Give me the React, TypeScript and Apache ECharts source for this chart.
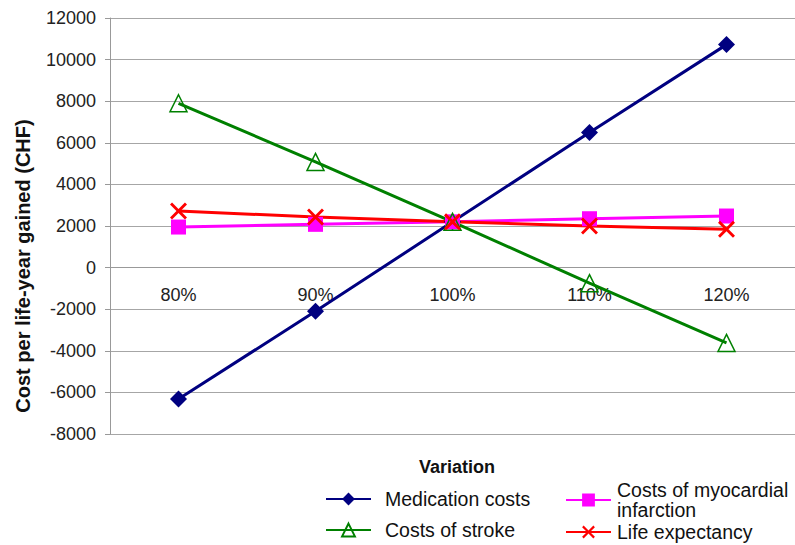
import React, { useEffect, useRef } from "react";
import * as echarts from "echarts";

const categories = ["80%", "90%", "100%", "110%", "120%"];
const medicationCosts = [-6320, -2100, 2200, 6500, 10720];
const costsOfMI = [1950, 2080, 2200, 2350, 2480];
const costsOfStroke = [7900, 5080, 2200, -750, -3620];
const lifeExpectancy = [2720, 2430, 2200, 2000, 1840];

const FONT = "'Liberation Sans', Arial, sans-serif";
const X_PATH =
  "path://M0,1.2L1.2,0L5,3.8L8.8,0L10,1.2L6.2,5L10,8.8L8.8,10L5,6.2L1.2,10L0,8.8L3.8,5Z";

export default function App() {
  const ref = useRef<HTMLDivElement>(null);
  useEffect(() => {
    document.body.style.margin = "0";
    const chart = echarts.init(ref.current!, null, { renderer: "svg" });
    const mkLegend = (
      name: string,
      left: number,
      top: number,
      padding: number[],
      lineHeight: number
    ) => ({
      data: [name],
      left,
      top,
      padding: 0,
      itemWidth: 45,
      itemHeight: 16,
      selectedMode: false,
      formatter: (n: string) =>
        n === "Costs of myocardial infarction" ? "Costs of myocardial\ninfarction" : n,
      textStyle: { fontFamily: FONT, fontSize: 19.5, color: "#111", lineHeight, padding },
    });
    chart.setOption({
      animation: false,
      backgroundColor: "#fff",
      grid: { left: 110, right: -10, top: 18, bottom: 111, containLabel: false },
      xAxis: {
        type: "category",
        data: categories,
        boundaryGap: true,
        offset: -167,
        axisLine: { onZero: false, lineStyle: { color: "#999", width: 1 } },
        axisTick: { show: false },
        axisLabel: { fontFamily: FONT, fontSize: 18, color: "#222", margin: 19 },
        splitLine: { show: false },
      },
      yAxis: {
        type: "value",
        min: -8000,
        max: 12000,
        interval: 2000,
        name: "Cost per life-year gained (CHF)",
        nameLocation: "middle",
        nameGap: 77,
        nameTextStyle: {
          fontFamily: FONT,
          fontSize: 20,
          fontWeight: "bold",
          color: "#111",
          padding: [0, 80, 0, 0],
        },
        axisLine: { show: true, lineStyle: { color: "#999", width: 1 } },
        axisTick: { show: true, length: 5, lineStyle: { color: "#999" } },
        axisLabel: {
          fontFamily: FONT,
          fontSize: 18,
          color: "#222",
          margin: 14,
          formatter: (v: number) => String(v),
        },
        splitLine: { show: true, lineStyle: { color: "#a6a6a6", width: 1 } },
      },
      legend: [
        mkLegend("Medication costs", 325, 485, [0, 0, 10, 9], 18),
        mkLegend("Costs of stroke", 325, 516, [0, 0, 10, 9], 18),
        mkLegend("Costs of myocardial infarction", 565, 480, [0, 0, 0, 1], 20),
        mkLegend("Life expectancy", 565, 518, [0, 0, 10, 1], 18),
      ],
      graphic: [
        {
          type: "text",
          x: 457,
          y: 467,
          style: {
            text: "Variation",
            font: `bold 18px ${FONT}`,
            fill: "#111",
            textAlign: "center",
            textVerticalAlign: "middle",
          },
        },
      ],
      series: [
        {
          name: "Medication costs",
          type: "line",
          data: medicationCosts,
          symbol: "diamond",
          symbolSize: 17,
          lineStyle: { color: "#000080", width: 3 },
          itemStyle: { color: "#000080" },
        },
        {
          name: "Costs of myocardial infarction",
          type: "line",
          data: costsOfMI,
          symbol: "rect",
          symbolSize: 15,
          lineStyle: { color: "#ff00ff", width: 3 },
          itemStyle: { color: "#ff00ff" },
        },
        {
          name: "Costs of stroke",
          type: "line",
          data: costsOfStroke,
          symbol: "triangle",
          symbolSize: 17,
          lineStyle: { color: "#008000", width: 3 },
          itemStyle: { color: "rgba(255,255,255,0)", borderColor: "#008000", borderWidth: 1.5 },
        },
        {
          name: "Life expectancy",
          type: "line",
          data: lifeExpectancy,
          symbol: X_PATH,
          symbolSize: 17,
          lineStyle: { color: "#ff0000", width: 3 },
          itemStyle: { color: "#ff0000" },
        },
      ],
    });
    return () => chart.dispose();
  }, []);
  return <div ref={ref} style={{ width: 795, height: 545 }} />;
}
